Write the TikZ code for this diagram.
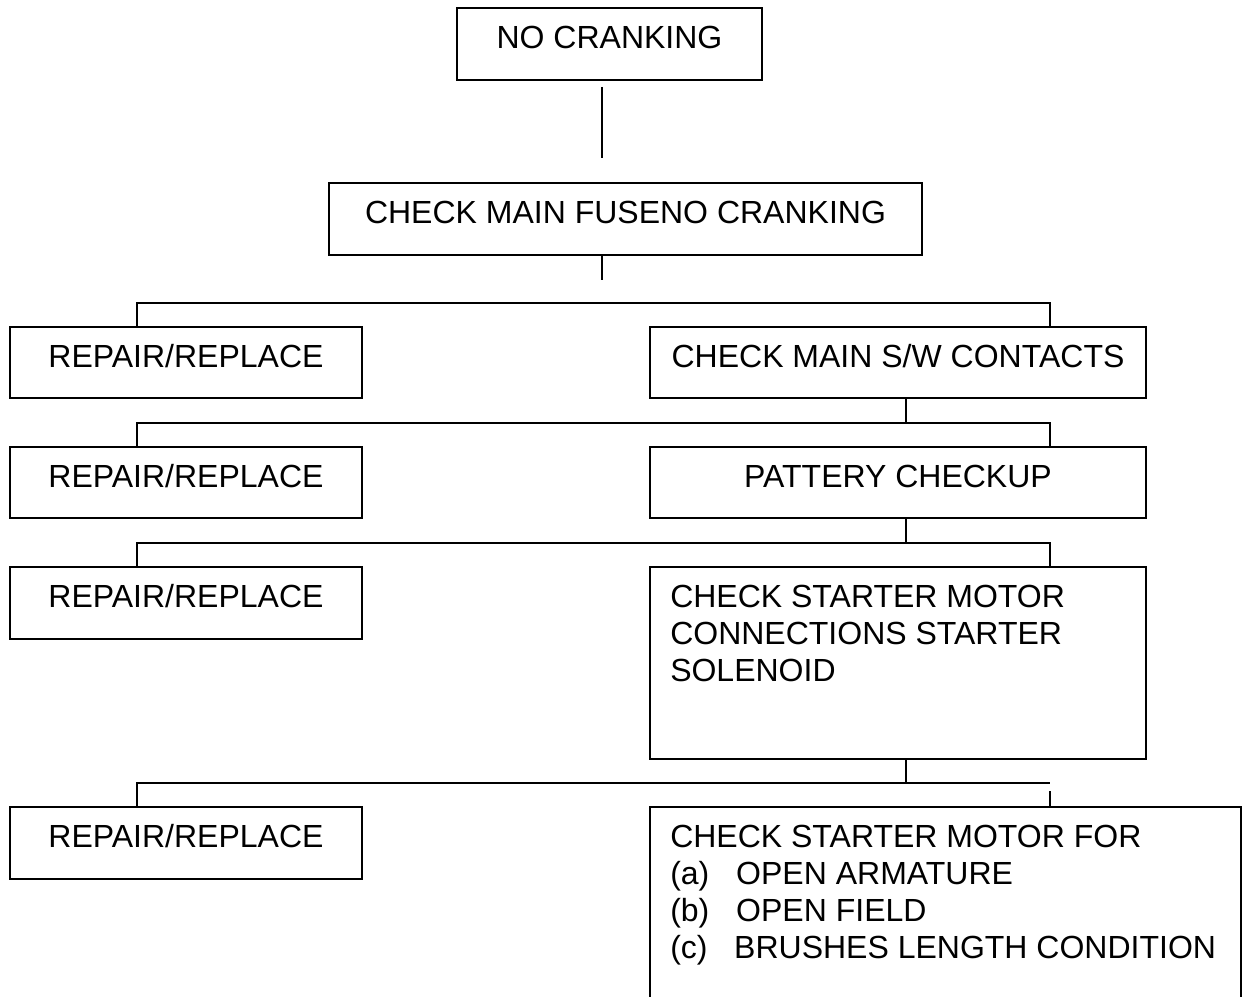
\documentclass[tikz,border=0pt]{standalone}
\usepackage{fontspec}
\setmainfont{Liberation Sans}
\begin{document}
\begin{tikzpicture}[x=1pt,y=-1pt,
  box/.style={draw=black, line width=1.9pt, inner sep=0pt, rectangle},
  lbl/.style={inner sep=0pt, anchor=base, font=\fontsize{32}{37}\selectfont},
  llbl/.style={lbl, anchor=base west},
  wire/.style={draw=black, line width=1.9pt}]
\useasboundingbox (0,0) rectangle (1247,996);
\clip (0,0) rectangle (1247,996);

% boxes
\node[box, minimum width=305pt, minimum height=72pt] (b0) at (609.5,44) {};
\node[box, minimum width=593pt, minimum height=72pt] (b1) at (625.5,219) {};
\node[box, minimum width=352pt, minimum height=71pt] (b2l) at (186,362.5) {};
\node[box, minimum width=496pt, minimum height=71pt] (b2r) at (898,362.5) {};
\node[box, minimum width=352pt, minimum height=71pt] (b3l) at (186,482.5) {};
\node[box, minimum width=496pt, minimum height=71pt] (b3r) at (898,482.5) {};
\node[box, minimum width=352pt, minimum height=72pt] (b4l) at (186,603) {};
\node[box, minimum width=496pt, minimum height=192pt] (b4r) at (898,663) {};
\node[box, minimum width=352pt, minimum height=72pt] (b5l) at (186,843) {};
\node[box, minimum width=591pt, minimum height=213pt] (b5r) at (945.5,913.5) {};

% labels
\node[lbl] (t0) at ([yshift=-41pt]b0.north) {NO CRANKING};
\node[lbl] (t1) at ([yshift=-41pt]b1.north) {CHECK MAIN FUSENO CRANKING};
\node[lbl] (t2l) at ([yshift=-41pt]b2l.north) {REPAIR/REPLACE};
\node[lbl] (t2r) at ([yshift=-41pt]b2r.north) {CHECK MAIN S/W CONTACTS};
\node[lbl] (t3l) at ([yshift=-41pt]b3l.north) {REPAIR/REPLACE};
\node[lbl] (t3r) at ([yshift=-41pt]b3r.north) {PATTERY CHECKUP};
\node[lbl] (t4l) at ([yshift=-41pt]b4l.north) {REPAIR/REPLACE};
\node[llbl] (t4r) at ([xshift=21pt,yshift=-41pt]b4r.north west)
  {\begin{tabular}[t]{@{}l@{}}CHECK STARTER MOTOR\\CONNECTIONS STARTER\\SOLENOID\end{tabular}};
\node[lbl] (t5l) at ([yshift=-41pt]b5l.north) {REPAIR/REPLACE};
\node[llbl] (t5r) at ([xshift=21pt,yshift=-41pt]b5r.north west)
  {\begin{tabular}[t]{@{}l@{}}CHECK STARTER MOTOR FOR\\
   \makebox[66pt][l]{(a)}OPEN ARMATURE\\
   \makebox[66pt][l]{(b)}OPEN FIELD\\
   \makebox[64pt][l]{(c)}BRUSHES LENGTH CONDITION\end{tabular}};

% connector guide coordinates
\coordinate (jT) at (602,0);
\coordinate (jL) at (137,0);
\coordinate (jR) at (1050,0);
\coordinate (jM) at (906,0);
\coordinate (bus1) at (0,303);
\coordinate (bus2) at (0,423);
\coordinate (bus3) at (0,543);
\coordinate (bus4) at (0,783);

% connectors
\draw[wire] ([yshift=-6pt]b0.south -| jT) -- ([yshift=24pt]b1.north -| jT);
\draw[wire] (b1.south -| jT) -- ([yshift=-24pt]b1.south -| jT);
\draw[wire] (jL |- b2l.north) -- (jL |- bus1) -- (jR |- bus1) -- (jR |- b2r.north);
\draw[wire] (jM |- b2r.south) -- (jM |- bus2);
\draw[wire] (jL |- b3l.north) -- (jL |- bus2) -- (jR |- bus2) -- (jR |- b3r.north);
\draw[wire] (jM |- b3r.south) -- (jM |- bus3);
\draw[wire] (jL |- b4l.north) -- (jL |- bus3) -- (jR |- bus3) -- (jR |- b4r.north);
\draw[wire] (jM |- b4r.south) -- (jM |- bus4);
\draw[wire] (jL |- b5l.north) -- (jL |- bus4) -- (jR |- bus4);
\draw[wire] ([yshift=15pt]jR |- b5r.north) -- (jR |- b5r.north);
\end{tikzpicture}
\end{document}
